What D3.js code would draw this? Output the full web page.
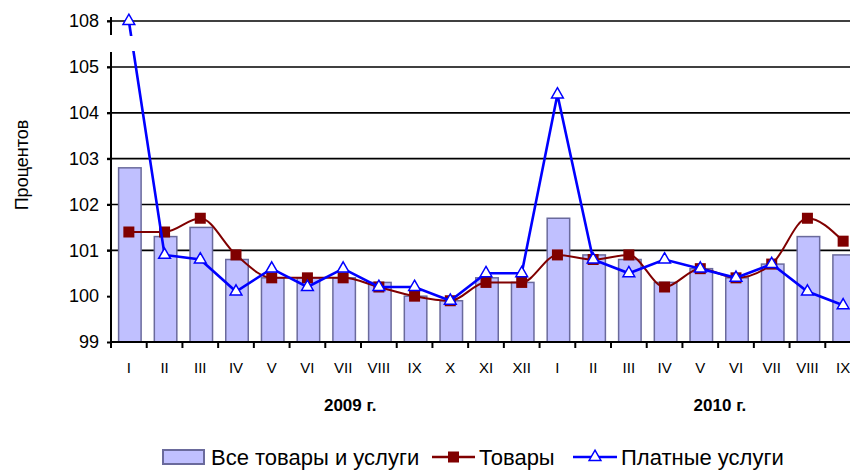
<!DOCTYPE html>
<html>
<head>
<meta charset="utf-8">
<script src="https://cdn.jsdelivr.net/npm/d3@7"></script>
<style>
  body { margin: 0; background: #fff; }
  svg { display: block; font-family: "Liberation Sans", Arial, sans-serif; }
</style>
</head>
<body>
<div id="chart"></div>
<script>
// данные с картинки
const months = ["I","II","III","IV","V","VI","VII","VIII","IX","X","XI","XII",
                "I","II","III","IV","V","VI","VII","VIII","IX"];
const allGoods = [102.8,101.3,101.5,100.8,100.4,100.4,100.4,100.3,100.0,99.9,100.4,100.3,
                  101.7,100.9,100.8,100.3,100.6,100.4,100.7,101.3,100.9];
const goods    = [101.4,101.4,101.7,100.9,100.4,100.4,100.4,100.2,100.0,99.9,100.3,100.3,
                  100.9,100.8,100.9,100.2,100.6,100.4,100.7,101.7,101.2];
const services = [108.0,100.9,100.8,100.1,100.6,100.2,100.6,100.2,100.2,99.9,100.5,100.5,
                  104.4,100.8,100.5,100.8,100.6,100.4,100.7,100.1,99.8];
const yTicks = [99,100,101,102,103,104,105,108];
const gridTicks = [101,102,103,104,105,108];
const years = [{label: "2009 г.", pos: 6.7}, {label: "2010 г.", pos: 17.05}];
const seriesNames = ["Все товары и услуги", "Товары", "Платные услуги"];

const width = 850, height = 471;
const left = 111, right = 861, bottom = 342;

const svg = d3.select("#chart").append("svg")
    .attr("width", width)
    .attr("height", height);

const idx = d3.range(months.length);
const x = d3.scaleBand().domain(idx).range([left, right]).padding(0);
// ось с разрывом: 105 -> 108
const y = d3.scaleLinear().domain([99, 105, 108]).range([bottom, 67, 21]);

const barW = x.bandwidth() * 0.63;
const cx = i => x(i) + x.bandwidth() / 2;

// сетка
svg.append("g")
  .selectAll("line")
  .data(gridTicks)
  .join("line")
    .attr("x1", left - 4).attr("x2", right)
    .attr("y1", d => y(d)).attr("y2", d => y(d))
    .attr("stroke", "#000")
    .attr("stroke-width", 1.6);

// столбики
svg.append("g")
  .selectAll("rect")
  .data(allGoods)
  .join("rect")
    .attr("x", (d, i) => cx(i) - barW / 2 + 1)
    .attr("y", d => y(d))
    .attr("width", barW)
    .attr("height", d => bottom - y(d))
    .attr("fill", "#c0c0ff")
    .attr("stroke", "#6a6a9c")
    .attr("stroke-width", 1.5);

const smooth = d3.line()
    .x((d, i) => cx(i))
    .y(d => y(d))
    .curve(d3.curveMonotoneX);
const straight = d3.line()
    .x((d, i) => cx(i))
    .y(d => y(d));

// Товары
svg.append("path")
    .datum(goods)
    .attr("d", smooth)
    .attr("fill", "none")
    .attr("stroke", "#800000")
    .attr("stroke-width", 2);

svg.append("g")
  .selectAll("rect")
  .data(goods)
  .join("rect")
    .attr("x", (d, i) => cx(i) - 5.5)
    .attr("y", d => y(d) - 5.5)
    .attr("width", 11)
    .attr("height", 11)
    .attr("fill", "#800000");

// Платные услуги
svg.append("path")
    .datum(services)
    .attr("d", straight)
    .attr("fill", "none")
    .attr("stroke", "#0000ff")
    .attr("stroke-width", 2.6);

const tri = d3.symbol().type(d3.symbolTriangle).size(60);
svg.append("g")
  .selectAll("path")
  .data(services)
  .join("path")
    .attr("d", tri)
    .attr("transform", (d, i) => `translate(${cx(i)},${y(d)})`)
    .attr("fill", "#fff")
    .attr("stroke", "#0000ff")
    .attr("stroke-width", 1.5);

// разрыв оси
svg.append("rect")
    .attr("x", 100).attr("y", 36)
    .attr("width", 45).attr("height", 15)
    .attr("fill", "#fff");

// ось Y
const yAxis = svg.append("g")
    .attr("transform", `translate(${left},0)`)
    .call(d3.axisLeft(y).tickValues(yTicks).tickSize(4).tickPadding(8).tickFormat(d3.format("d")));
yAxis.select(".domain").remove();
yAxis.selectAll("line").attr("stroke-width", 2);
yAxis.selectAll("text").attr("font-size", 18).attr("fill", "#000")
    .attr("font-family", "'Liberation Sans', Arial, sans-serif");

svg.append("line")
    .attr("x1", left).attr("x2", left).attr("y1", 17).attr("y2", 35)
    .attr("stroke", "#000").attr("stroke-width", 2);
svg.append("line")
    .attr("x1", left).attr("x2", left).attr("y1", 52).attr("y2", bottom + 6)
    .attr("stroke", "#000").attr("stroke-width", 2);

// ось X
const xAxis = svg.append("g")
    .attr("transform", `translate(0,${bottom})`)
    .call(d3.axisBottom(x).tickSize(0).tickPadding(20).tickFormat(i => months[i]));
xAxis.select(".domain").remove();
xAxis.selectAll("text").attr("font-size", 15).attr("fill", "#000")
    .attr("font-family", "'Liberation Sans', Arial, sans-serif");

svg.append("line")
    .attr("x1", left).attr("x2", right).attr("y1", bottom).attr("y2", bottom)
    .attr("stroke", "#000").attr("stroke-width", 2);
svg.append("g")
  .selectAll("line")
  .data(d3.range(months.length + 1))
  .join("line")
    .attr("x1", i => left + i * x.step()).attr("x2", i => left + i * x.step())
    .attr("y1", bottom).attr("y2", bottom + 6)
    .attr("stroke", "#000").attr("stroke-width", 2);

// годы
svg.append("g")
  .selectAll("text")
  .data(years)
  .join("text")
    .attr("x", d => left + d.pos * x.step())
    .attr("y", 411)
    .attr("text-anchor", "middle")
    .attr("font-size", 17)
    .attr("font-weight", "bold")
    .text(d => d.label);

// подпись оси
svg.append("text")
    .attr("transform", "translate(28,165) rotate(-90)")
    .attr("text-anchor", "middle")
    .attr("font-size", 18)
    .text("Процентов");

// легенда
const lg = svg.append("g").attr("font-size", 22);
lg.append("rect")
    .attr("x", 163).attr("y", 450).attr("width", 41).attr("height", 14)
    .attr("fill", "#c0c0ff").attr("stroke", "#6a6a9c").attr("stroke-width", 2);
lg.append("text").attr("x", 211).attr("y", 465).text(seriesNames[0]);

lg.append("line").attr("x1", 432).attr("x2", 475).attr("y1", 457).attr("y2", 457)
    .attr("stroke", "#800000").attr("stroke-width", 2.5);
lg.append("rect").attr("x", 448).attr("y", 451.5).attr("width", 11).attr("height", 11)
    .attr("fill", "#800000");
lg.append("text").attr("x", 479).attr("y", 465).text(seriesNames[1]);

lg.append("line").attr("x1", 573).attr("x2", 617).attr("y1", 457).attr("y2", 457)
    .attr("stroke", "#0000ff").attr("stroke-width", 2.5);
lg.append("path").attr("d", tri).attr("transform", "translate(595,457)")
    .attr("fill", "#fff").attr("stroke", "#0000ff").attr("stroke-width", 1.5);
lg.append("text").attr("x", 621).attr("y", 465).text(seriesNames[2]);
</script>
</body>
</html>
